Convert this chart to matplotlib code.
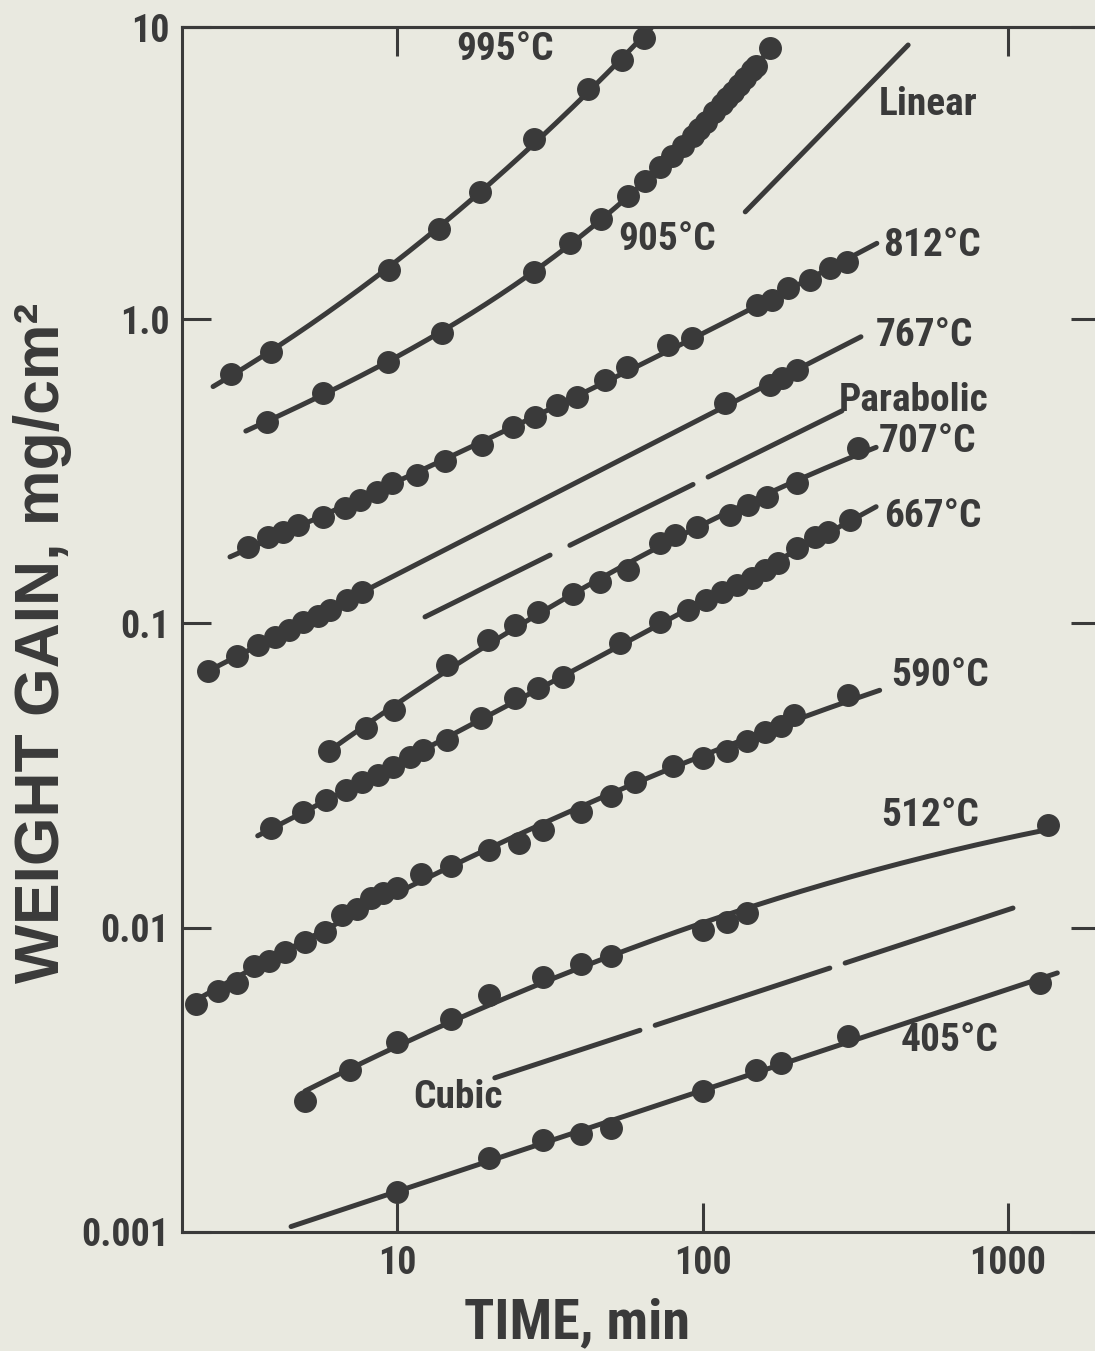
import numpy as np
import matplotlib
matplotlib.use('Agg')
import matplotlib.pyplot as plt
from matplotlib import font_manager as fm
from matplotlib.font_manager import FontProperties
from matplotlib.textpath import TextPath
from matplotlib.ticker import NullLocator

BG = '#e9e9e0'
INK = '#3a3a3a'

# ---------------- data (time in min, weight gain in mg/cm^2) ----------------
t995 = [2.86, 3.87, 9.4, 13.7, 18.7, 28.1, 42.2, 54.5, 64.4]
w995 = [0.66, 0.78, 1.45, 1.98, 2.61, 3.9, 5.7, 7.1, 8.4]
r995 = [2.5, 72]

t905 = [3.75, 5.73, 9.34, 14.0, 28.1, 36.8, 46.6, 57, 64.9, 72.6, 79.4, 86.3, 93, 97.5,
        102.6, 109, 116, 120, 126, 132, 138, 145, 150, 166]
w905 = [0.459, 0.571, 0.722, 0.90, 1.43, 1.78, 2.13, 2.54, 2.84, 3.16, 3.43, 3.7, 4.0, 4.2,
        4.44, 4.79, 5.09, 5.33, 5.57, 5.87, 6.2, 6.58, 6.78, 7.77]
r905 = [3.2, 170]

t812 = [3.25, 3.78, 4.24, 4.74, 5.73, 6.76, 7.57, 8.6, 9.63, 11.6, 14.4, 19.0, 24.0, 28.3,
        33.4, 38.8, 48.0, 56.6, 77.1, 92.4, 151, 169, 190, 225, 261, 297]
w812 = [0.178, 0.192, 0.1995, 0.210, 0.224, 0.239, 0.254, 0.270, 0.289, 0.307, 0.341, 0.385,
        0.442, 0.476, 0.521, 0.554, 0.631, 0.695, 0.822, 0.866, 1.11, 1.155, 1.26, 1.34, 1.47, 1.54]
r812 = [2.84, 372]

t767 = [2.40, 2.99, 3.51, 3.98, 4.43, 4.92, 5.51, 6.04, 6.86, 7.68, 118.6, 166, 182, 204]
w767 = [0.0697, 0.0781, 0.0849, 0.0902, 0.095, 0.101, 0.106, 0.111, 0.119, 0.127,
        0.53, 0.607, 0.64, 0.68]
r767 = [2.3, 330]

t707 = [6.0, 7.9, 9.8, 14.6, 19.8, 24.3, 29, 37.6, 46.2, 57, 72.6, 81.3, 96, 123, 141, 163, 204, 323]
w707 = [0.038, 0.0453, 0.052, 0.073, 0.088, 0.0987, 0.109, 0.125, 0.137, 0.15, 0.184, 0.195,
        0.207, 0.227, 0.245, 0.26, 0.289, 0.377]
r707 = [5.8, 370]

t667 = [3.87, 4.92, 5.86, 6.81, 7.68, 8.67, 9.7, 11.0, 12.2, 14.6, 18.8, 24.3, 28.9, 34.9, 53.7,
        72.6, 89.7, 102.6, 116, 130, 145, 160, 177, 204, 233, 257, 304]
w667 = [0.0212, 0.024, 0.0262, 0.0283, 0.0301, 0.0317, 0.0337, 0.0364, 0.0384, 0.0413, 0.0489,
        0.0569, 0.0613, 0.0667, 0.0861, 0.101, 0.111, 0.119, 0.127, 0.134, 0.141, 0.15, 0.158,
        0.177, 0.192, 0.1995, 0.218]
r667 = [3.5, 370]

t590 = [2.2, 2.6, 3.0, 3.4, 3.8, 4.3, 5.0, 5.8, 6.6, 7.4, 8.2, 9.0, 10, 12, 15, 20, 25, 30, 40,
        50, 60, 80, 100, 120, 140, 160, 180, 200, 300]
w590 = [0.0056, 0.0062, 0.0066, 0.0075, 0.0078, 0.0083, 0.009, 0.0097, 0.011, 0.0115, 0.0125,
        0.013, 0.0135, 0.015, 0.016, 0.018, 0.019, 0.021, 0.024, 0.027, 0.03, 0.034, 0.036,
        0.038, 0.041, 0.044, 0.046, 0.05, 0.058]
r590 = [2.1, 380]

t512 = [5, 7, 10, 15, 20, 30, 40, 50, 100, 120, 140, 1350]
w512 = [0.0027, 0.0034, 0.0042, 0.005, 0.006, 0.0069, 0.0076, 0.0081, 0.0098, 0.0104, 0.0112, 0.0217]
r512 = [5, 1350]

t405 = [10, 20, 30, 40, 50, 100, 150, 180, 300, 1274]
w405 = [0.00135, 0.00175, 0.002, 0.0021, 0.0022, 0.0029, 0.0034, 0.0036, 0.0044, 0.0066]
r405 = [4.5, 1450]

# reference slopes (end points, and gaps of the dashed ones)
lin_t = [138, 471]
lin_w = [2.25, 7.95]
par_t = [12.35, 286]
par_w = [0.105, 0.499]
par_gaps = [(31.7, 36.8), (93.1, 104.3)]
cub_t = [20.9, 1038]
cub_w = [0.00321, 0.0116]
cub_gaps = [(62.4, 70.0), (261, 293)]

series = [
    (t995, w995, r995, 2), (t905, w905, r905, 3), (t812, w812, r812, 2),
    (t767, w767, r767, 1), (t707, w707, r707, 2), (t667, w667, r667, 2),
    (t590, w590, r590, 2), (t512, w512, r512, 2), (t405, w405, r405, 1),
]

labels = [
    ('995°C', 22.6, 7.66), ('905°C', 76.6, 1.82), ('Linear', 547, 5.05),
    ('812°C', 564, 1.75), ('767°C', 534, 0.886), ('Parabolic', 492, 0.541),
    ('707°C', 547, 0.397), ('667°C', 568, 0.224), ('590°C', 599, 0.0676),
    ('512°C', 556, 0.0234), ('Cubic', 15.8, 0.00277), ('405°C', 646, 0.00427),
]


# ---------------- font choice (prefer a condensed bold face) ----------------
def pick_font():
    ents = fm.fontManager.ttflist

    def bold(f):
        try:
            return int(f.weight) >= 600
        except (TypeError, ValueError):
            return str(f.weight).lower() in ('bold', 'heavy', 'black', 'demibold', 'semibold')

    names = {f.name for f in ents if bold(f)}
    for n in ('Liberation Sans Narrow', 'Roboto Condensed', 'Open Sans Condensed',
              'Noto Sans Condensed', 'DejaVu Sans Condensed'):
        if n in names:
            return n, 'normal'
    for n in ('Roboto', 'Noto Sans', 'Open Sans', 'DejaVu Sans'):
        for f in ents:
            if f.name == n and bold(f) and f.stretch in ('condensed', 'semi-condensed',
                                                        'extra-condensed'):
                return n, f.stretch
    for f in ents:
        if bold(f) and ('Narrow' in f.name or 'Condensed' in f.name):
            return f.name, 'normal'
    return 'Liberation Sans', 'normal'


FAM, STR = pick_font()
FP = FontProperties(family=FAM, weight='bold', stretch=STR)
FP_WIDE = FontProperties(family='Liberation Sans', weight='bold')


def fit(s, width_px, cap_px, fp):
    ext = TextPath((0, 0), s, size=72, prop=fp).get_extents()
    cap = TextPath((0, 0), 'H', size=72, prop=fp).get_extents().height
    w_px = ext.width * 100 / 72
    c_px = cap * 100 / 72
    return min(72 * width_px / w_px, 72 * cap_px / c_px)


S_TICK = fit('0.001', 88, 27, FP)
S_LAB = fit('995°C', 95, 28, FP)
S_X = fit('TIME, min', 222, 40, FP)
S_Y = fit('WEIGHT GAIN, mg/cm²', 690, 43, FP_WIDE)

# ---------------- figure ----------------
W, H = 1095, 1351
fig = plt.figure(figsize=(W / 100, H / 100), dpi=100, facecolor=BG)
ax = fig.add_axes([182 / W, 119 / H, 918 / W, 1205 / H])
ax.set_facecolor(BG)
ax.set_xscale('log')
ax.set_yscale('log')
ax.set_xlim(1.978, 2000)
ax.set_ylim(0.001, 9.11)

LW = 3.6
for t, w, rng, deg in series:
    lt, lw = np.log10(t), np.log10(w)
    c = np.polyfit(lt, lw, deg)
    xs = np.linspace(np.log10(rng[0]), np.log10(rng[1]), 300)
    ax.plot(10 ** xs, 10 ** np.polyval(c, xs), color=INK, lw=LW,
            solid_capstyle='round', zorder=2)
    ax.plot(t, w, 'o', ms=15.5, color=INK, mec=INK, zorder=3)


def ref_line(tt, ww, gaps):
    lt0, lt1 = np.log10(tt)
    lw0, lw1 = np.log10(ww)
    s = (lw1 - lw0) / (lt1 - lt0)
    bounds = [lt0]
    for g0, g1 in gaps:
        bounds += [np.log10(g0), np.log10(g1)]
    bounds.append(lt1)
    for a, b in zip(bounds[0::2], bounds[1::2]):
        xs = np.array([a, b])
        ax.plot(10 ** xs, 10 ** (lw0 + s * (xs - lt0)), color=INK, lw=LW,
                solid_capstyle='round', zorder=2)


ref_line(lin_t, lin_w, [])
ref_line(par_t, par_w, par_gaps)
ref_line(cub_t, cub_w, cub_gaps)

for txt, x, y in labels:
    ax.text(x, y, txt, ha='center', va='center', fontproperties=FP, fontsize=S_LAB,
            color=INK, zorder=4)

# axes styling
for side in ['left', 'right', 'top', 'bottom']:
    ax.spines[side].set_color(INK)
    ax.spines[side].set_linewidth(2.2)
ax.minorticks_off()
ax.set_xticks([10, 100, 1000])
ax.set_xticklabels(['10', '100', '1000'])
ax.set_yticks([0.001, 0.01, 0.1, 1.0, 9.11])
ax.set_yticklabels(['0.001', '0.01', '0.1', '1.0', '10'])
ax.tick_params(which='both', direction='in', length=21, width=2.2, color=INK,
               top=False, right=True, labelcolor=INK, pad=9)
for lab in ax.get_xticklabels() + ax.get_yticklabels():
    lab.set_fontproperties(FP)
    lab.set_fontsize(S_TICK)

top = ax.secondary_xaxis('top')
top.set_xticks([10, 1000])
top.xaxis.set_minor_locator(NullLocator())
top.tick_params(which='both', direction='in', length=21, width=2.2, color=INK,
                labeltop=False)
top.spines['top'].set_color(INK)
top.spines['top'].set_linewidth(2.2)

fig.text(577 / W, 1 - 1338 / H, 'TIME, min', ha='center', va='baseline',
         fontproperties=FP, fontsize=S_X, color=INK)
fig.text(43 / W, 1 - 643 / H, 'WEIGHT GAIN, mg/cm²', ha='center', va='center',
         rotation=90, fontproperties=FP_WIDE, fontsize=S_Y, color=INK)

fig.savefig('out.png', dpi=100, facecolor=BG)
